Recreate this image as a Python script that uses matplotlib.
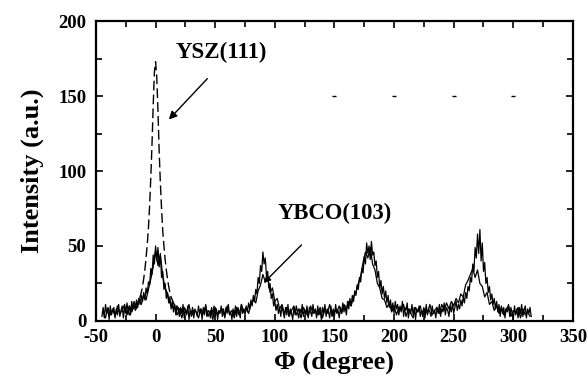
import numpy as np
import matplotlib
matplotlib.use("Agg")
import matplotlib.pyplot as plt
from matplotlib.ticker import MultipleLocator

plt.rcParams['font.family'] = ['Liberation Serif', 'DejaVu Serif']
plt.rcParams['font.weight'] = 'bold'
plt.rcParams['axes.unicode_minus'] = False

# YBCO(103) phi scan, main curve: x = -45 .. 315 step 1
ybco_a_x = np.arange(-45, 316, 1)
ybco_a = [
    3,9,2,11,5,8,1,10,4,7,
    9,2,8,4,11,3,7,10,2,9,
    5,12,6,10,4,13,8,11,7,14,
    9,15,11,17,13,19,14,22,18,26,
    24,35,31,44,38,50,40,49,36,45,
    29,33,21,25,15,19,12,16,8,13,
    6,11,4,10,7,3,9,5,11,2,
    8,4,10,1,7,5,9,2,8,6,
    3,10,5,8,1,9,4,11,3,7,
    6,2,9,4,10,3,8,1,7,5,
    10,3,8,2,9,5,11,4,6,1,
    8,4,10,3,9,6,2,11,5,8,
    4,10,6,12,8,14,10,17,13,21,
    18,29,25,37,33,46,38,42,30,33,
    22,25,15,18,10,13,7,11,5,9,
    3,10,6,2,9,4,11,3,8,5,
    1,9,4,10,6,2,8,5,11,3,
    7,4,10,2,9,6,3,11,5,8,
    2,10,4,7,1,9,5,11,3,8,
    6,2,10,4,8,3,11,5,7,2,
    9,5,12,6,10,4,13,8,15,10,
    17,13,20,17,24,21,29,26,35,32,
    43,38,52,45,50,41,53,44,46,37,
    40,29,33,22,27,18,23,15,20,12,
    17,9,14,7,12,5,13,8,11,4,
    10,6,13,3,9,7,12,2,8,5,
    11,4,9,1,8,6,10,3,7,5,
    9,2,11,4,8,6,3,10,5,7,
    2,9,5,11,3,8,6,12,4,9,
    7,3,10,6,12,5,9,13,7,11,
    8,14,10,16,12,19,15,23,20,29,
    26,38,33,49,42,58,45,61,40,52,
    33,39,25,29,19,23,14,18,11,15,
    8,13,6,11,3,10,5,9,2,8,
    6,11,3,9,5,1,10,4,8,2,
    9,5,11,3,7,10,2,8,5,9,3,
]

# YBCO(103) second (lower) curve: x = -44 .. 314 step 2
ybco_b_x = np.arange(-44, 315, 2)
ybco_b = [
    6,2,9,4,8,3,10,5,7,11,
    4,10,7,13,8,15,11,17,14,21,
    28,36,47,37,44,30,22,18,12,9,
    10,4,8,2,9,5,11,3,7,6,
    2,8,5,10,3,7,1,9,4,6,
    8,3,10,5,7,2,9,4,11,6,
    9,5,11,14,12,20,24,31,26,29,
    19,22,13,15,8,11,5,9,3,7,
    10,4,8,2,9,6,3,10,5,7,
    4,9,2,8,5,11,3,7,6,10,
    5,11,8,13,10,16,19,25,30,39,
    46,42,49,38,34,25,22,15,14,9,
    12,6,10,4,9,7,11,3,8,5,
    2,9,6,10,3,8,5,11,4,7,
    9,5,11,7,12,8,13,10,15,12,
    18,16,24,27,31,35,29,34,25,23,
    16,19,11,13,7,10,5,9,4,8,
    10,3,7,5,9,2,8,4,6,3,
]

# YSZ(111) peak: x = -24 .. 24 step 1
ysz_x = np.arange(-24, 25, 1)
ysz = [
    5,7,4,8,6,9,7,10,12,11,
    14,16,19,23,28,34,42,51,62,77,
    96,118,144,166,173,162,140,113,92,
    75,60,50,41,34,28,23,19,16,14,
    12,10,11,8,9,7,8,6,7,5,
]

# stray marks at the 150 level
stray_x = [150, 200, 250, 300]
stray_y = [150, 150, 150, 150]

fig = plt.figure(figsize=(5.87, 3.78), dpi=100)
ax = fig.add_axes([0.1635, 0.151, 0.8125, 0.793])

ax.plot(ybco_b_x, ybco_b, color='black', lw=0.9)
ax.plot(ybco_a_x, ybco_a, color='black', lw=0.9)
ax.plot(ysz_x, ysz, color='black', lw=1.0, linestyle=(0, (7, 3)))
ax.plot(stray_x, stray_y, linestyle='none', marker='_', ms=3, color='black', mew=1)

ax.set_xlim(-50, 350)
ax.set_ylim(0, 200)
ax.xaxis.set_major_locator(MultipleLocator(50))
ax.xaxis.set_minor_locator(MultipleLocator(25))
ax.yaxis.set_major_locator(MultipleLocator(50))
ax.yaxis.set_minor_locator(MultipleLocator(25))
ax.tick_params(which='both', direction='in', top=True, right=True, width=1.2)
ax.tick_params(which='major', length=5, labelsize=13.5)
ax.tick_params(axis='x', which='major', pad=6)
ax.tick_params(axis='y', which='major', pad=7)
ax.tick_params(which='minor', length=4)
for lab in ax.get_xticklabels() + ax.get_yticklabels():
    lab.set_fontweight('bold')
for s in ax.spines.values():
    s.set_linewidth(1.6)

ax.set_xlabel('Φ (degree)', fontsize=19, fontweight='bold', labelpad=3)
ax.set_ylabel('Intensity (a.u.)', fontsize=19, fontweight='bold', labelpad=10)

ax.annotate('', xy=(9.5, 133), xytext=(45, 163),
            arrowprops=dict(arrowstyle='-|>', color='black', lw=1.0,
                            mutation_scale=12))
ax.text(55, 179, 'YSZ(111)', fontsize=16.5, fontweight='bold', ha='center', va='center')

ax.annotate('', xy=(89, 24), xytext=(124, 52),
            arrowprops=dict(arrowstyle='-|>', color='black', lw=1.0,
                            mutation_scale=10))
ax.text(150, 72, 'YBCO(103)', fontsize=16.3, fontweight='bold', ha='center', va='center')

fig.savefig('out.png', dpi=100)
